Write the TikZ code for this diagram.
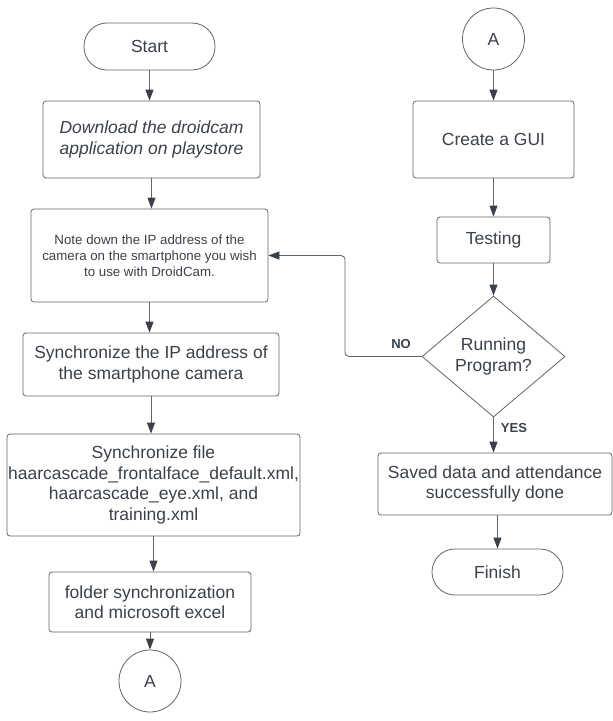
\documentclass[tikz,border=0pt]{standalone}
\usepackage{fontspec}
\setmainfont{Liberation Sans}
\usetikzlibrary{arrows.meta,shapes.geometric}
\definecolor{txtc}{RGB}{58,65,74}
\definecolor{linec}{RGB}{100,100,100}
\definecolor{headc}{RGB}{58,65,74}
\tikzset{
  every node/.style={text=txtc, font=\fontsize{17.5}{20.5}\selectfont, align=center, inner sep=0pt},
  procbox/.style={draw=linec, line width=0.8pt, rounded corners=3pt, rectangle},
  termbox/.style={draw=linec, line width=0.8pt, rounded corners=23pt, rectangle, minimum height=47pt},
  connc/.style={draw=linec, line width=0.8pt, circle, minimum size=62pt},
  decbox/.style={draw=linec, line width=0.8pt, diamond},
  flow/.style={draw=linec, line width=0.8pt, -{Triangle[length=11pt,width=8pt,color=headc]}},
  lbl/.style={font=\fontsize{13}{15}\selectfont\bfseries}
}
\begin{document}
\begin{tikzpicture}[x=1pt,y=-1pt]
\useasboundingbox (0,0) rectangle (613,721);
% left column
\node[termbox, minimum width=131pt] (start) at (149.5,46.5) {Start};
\node[procbox, minimum width=217pt, minimum height=77pt] (dl) at (151.5,139.5) {\itshape Download the droidcam\\\itshape application on playstore};
\node[procbox, minimum width=237pt, minimum height=93pt, font=\fontsize{13.3}{16}\selectfont] (note) at (149.5,255.5) {Note down the IP address of the\\camera on the smartphone you wish\\to use with DroidCam.};
\node[procbox, minimum width=256pt, minimum height=63pt] (syncip) at (151,364.5) {Synchronize the IP address of\\the smartphone camera};
\node[procbox, minimum width=293pt, minimum height=102pt] (syncfile) at (153.5,485) {Synchronize file\\haarcascade\_frontalface\_default.xml,\\haarcascade\_eye.xml, and\\training.xml};
\node[procbox, minimum width=202pt, minimum height=60pt] (folder) at (150,602) {folder synchronization\\and microsoft excel};
\node[connc] (aone) at (150,681) {A};
% right column
\node[connc] (atwo) at (493.5,39) {A};
\node[procbox, minimum width=161pt, minimum height=77pt] (gui) at (493.5,139.5) {Create a GUI};
\node[procbox, minimum width=113pt, minimum height=46pt] (test) at (493.5,240) {Testing};
\node[decbox, minimum width=143pt, minimum height=121pt] (dec) at (493.5,356.5) {Running\\Program?};
\node[procbox, minimum width=234pt, minimum height=62pt] (saved) at (495,484) {Saved data and attendance\\successfully done};
\node[termbox, minimum width=131pt, minimum height=46pt] (finish) at (497.5,572) {Finish};
% connectors
\draw[flow] (start.south) -- (start.south |- dl.north);
\draw[flow] (dl.south) -- (dl.south |- note.north);
\draw[flow] (note.south) -- (note.south |- syncip.north);
\draw[flow] (syncip.south) -- (syncip.south |- syncfile.north);
\draw[flow] (syncfile.south) -- (syncfile.south |- folder.north);
\draw[flow] (folder.south) -- (folder.south |- aone.north);
\draw[flow] (atwo.south) -- (atwo.south |- gui.north);
\draw[flow] (gui.south) -- (gui.south |- test.north);
\draw[flow] (test.south) -- (test.south |- dec.north);
\draw[flow] (dec.south) -- (dec.south |- saved.north);
\draw[flow] (finish.north |- saved.south) -- (finish.north);
\coordinate (nobend) at (345,255.5);
\draw[flow, rounded corners=4pt] (dec.west) -| (nobend) -- (note.east);
\node[lbl] (nolbl) at (401,344) {NO};
\node[lbl] (yeslbl) at (514,428) {YES};
\end{tikzpicture}
\end{document}
